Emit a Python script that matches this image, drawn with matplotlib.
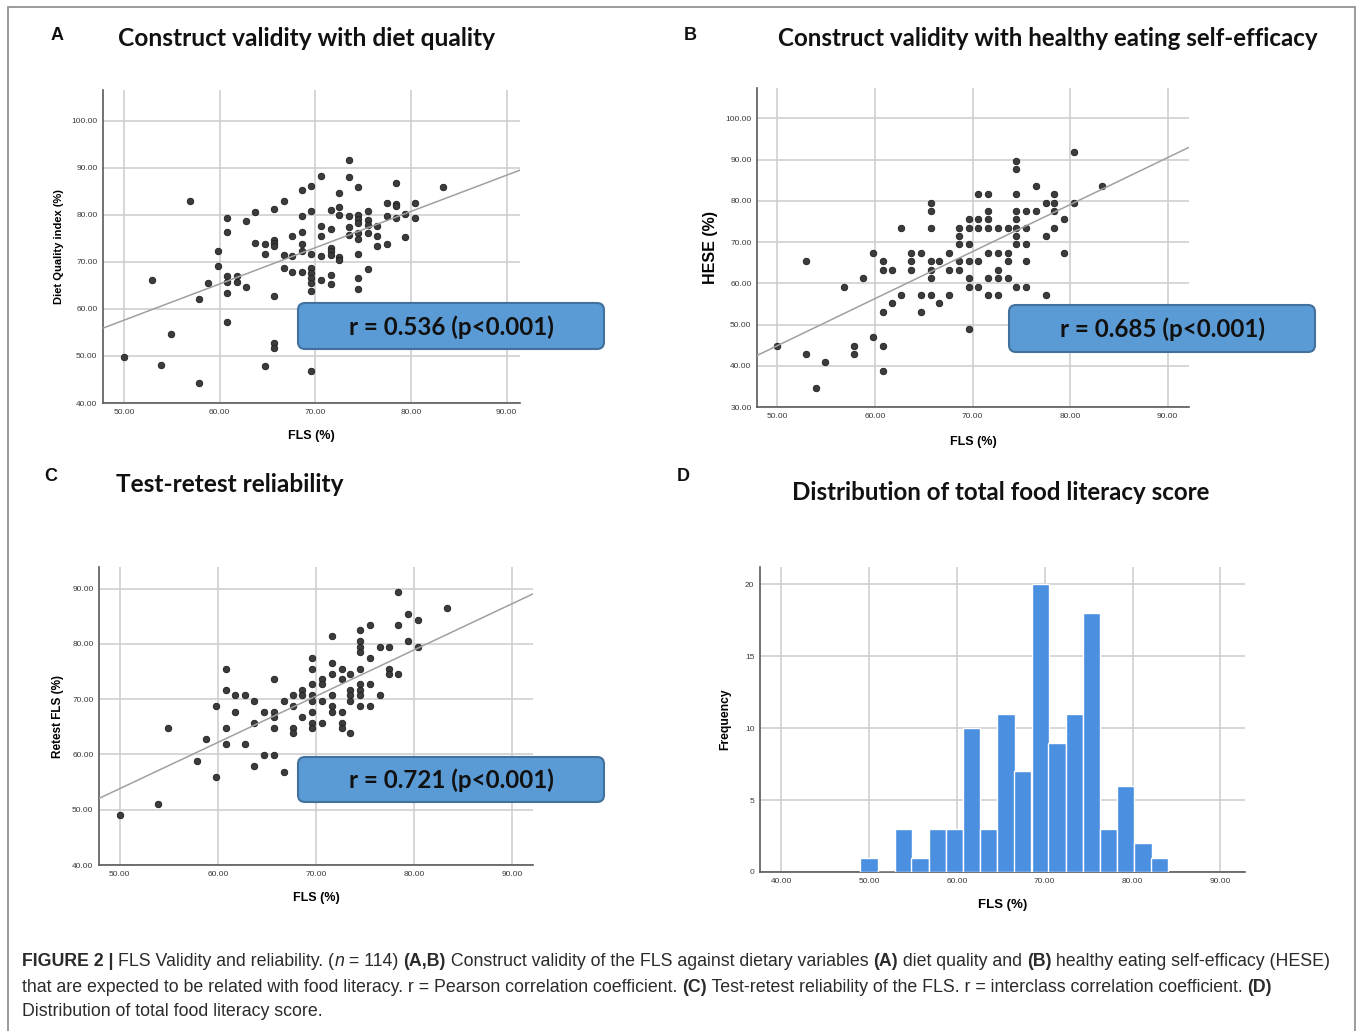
import numpy as np
import matplotlib
matplotlib.use("Agg")
import matplotlib.pyplot as plt
from matplotlib.patches import FancyBboxPatch, Rectangle
from matplotlib.transforms import IdentityTransform

# -----------------------------
# Data
# -----------------------------
# Panel A: FLS vs diet quality index
a_fls = [50.0, 52.9, 53.9, 54.9, 56.9, 57.8, 57.8, 58.8, 59.8, 59.8,
         60.8, 60.8, 60.8, 60.8, 60.8, 60.8, 61.8, 61.8, 62.8, 62.8,
         63.7, 63.7, 64.7, 64.7, 64.7, 65.7, 65.7, 65.7, 65.7, 65.7,
         65.7, 65.7, 66.7, 66.7, 66.7, 67.6, 67.6, 67.6, 68.6, 68.6,
         68.6, 68.6, 68.6, 68.6, 69.6, 69.6, 69.6, 69.6, 69.6, 69.6,
         69.6, 69.6, 69.6, 70.6, 70.6, 70.6, 70.6, 70.6, 71.6, 71.6,
         71.6, 71.6, 71.6, 71.6, 71.6, 72.5, 72.5, 72.5, 72.5, 72.5,
         73.5, 73.5, 73.5, 73.5, 73.5, 74.5, 74.5, 74.5, 74.5, 74.5,
         74.5, 74.5, 74.5, 74.5, 75.5, 75.5, 75.5, 75.5, 75.5, 76.5,
         76.5, 76.5, 77.5, 77.5, 77.5, 78.4, 78.4, 78.4, 78.4, 79.4,
         79.4, 80.4, 80.4, 83.3]
a_dqi = [49.7, 66.2, 48.1, 54.6, 82.9, 62.2, 44.2, 65.5, 72.4, 69.2,
         79.3, 76.4, 67.0, 65.8, 63.4, 57.3, 67.0, 65.8, 78.6, 64.7,
         80.5, 74.0, 73.7, 71.6, 47.8, 81.2, 74.7, 74.0, 73.4, 62.8,
         52.7, 51.6, 82.9, 71.5, 68.6, 75.4, 71.3, 67.8, 85.3, 79.8,
         76.4, 73.7, 72.4, 67.8, 86.0, 80.7, 71.6, 68.6, 67.6, 66.6,
         65.6, 63.9, 46.9, 88.3, 77.6, 75.4, 71.3, 66.1, 80.9, 76.9,
         72.9, 72.2, 71.5, 67.2, 65.3, 84.6, 81.6, 79.9, 71.1, 70.4,
         91.6, 88.0, 79.8, 77.4, 75.7, 85.8, 79.9, 79.1, 78.2, 76.2,
         74.8, 71.6, 66.6, 64.3, 80.7, 78.8, 77.9, 76.2, 68.4, 77.6,
         75.4, 73.4, 82.5, 79.8, 73.8, 86.7, 82.3, 81.9, 79.2, 80.2,
         75.2, 82.5, 79.3, 85.8]
a_line = [57.6, 0.77]   # value at FLS = 50, slope

# Panel B: FLS vs healthy eating self-efficacy
b_fls = [50.0, 52.9, 52.9, 53.9, 54.9, 56.8, 57.8, 57.8, 58.8, 59.8,
         59.8, 60.8, 60.8, 60.8, 60.8, 60.8, 61.7, 61.7, 62.7, 62.7,
         63.7, 63.7, 63.7, 64.7, 64.7, 64.7, 65.7, 65.7, 65.7, 65.7,
         65.7, 65.7, 65.7, 66.6, 66.6, 67.6, 67.6, 67.6, 68.6, 68.6,
         68.6, 68.6, 68.6, 69.6, 69.6, 69.6, 69.6, 69.6, 69.6, 69.6,
         70.6, 70.6, 70.6, 70.6, 70.6, 71.6, 71.6, 71.6, 71.6, 71.6,
         71.6, 71.6, 72.6, 72.6, 72.6, 72.6, 72.6, 73.6, 73.6, 73.6,
         73.6, 74.5, 74.5, 74.5, 74.5, 74.5, 74.5, 74.5, 74.5, 74.5,
         75.5, 75.5, 75.5, 75.5, 75.5, 76.5, 76.5, 77.5, 77.5, 77.5,
         78.4, 78.4, 78.4, 78.4, 79.4, 79.4, 80.4, 80.4, 83.3]
b_hese = [44.9, 65.4, 42.9, 34.7, 40.9, 59.2, 44.9, 42.9, 61.2, 67.4,
          46.9, 65.4, 63.3, 53.1, 44.9, 38.8, 63.3, 55.2, 73.5, 57.2,
          67.4, 65.4, 63.3, 67.4, 57.2, 53.1, 79.6, 77.6, 73.5, 65.4,
          63.3, 61.2, 57.2, 65.4, 55.2, 67.4, 63.3, 57.2, 73.5, 71.5,
          69.5, 65.4, 63.3, 75.6, 73.5, 69.5, 65.4, 61.2, 59.2, 49.0,
          81.6, 75.6, 73.5, 65.4, 59.2, 81.6, 77.6, 75.6, 73.5, 67.4,
          61.2, 57.2, 73.5, 67.4, 63.3, 61.2, 57.2, 73.5, 67.4, 65.4,
          61.2, 89.8, 87.7, 81.6, 77.6, 75.6, 73.5, 71.5, 69.5, 59.2,
          77.6, 73.5, 69.5, 65.4, 59.2, 83.7, 77.6, 79.6, 71.5, 57.2,
          81.6, 79.6, 77.6, 73.5, 75.6, 67.4, 91.8, 79.6, 83.7]
b_line = [44.9, 1.14]

# Panel C: FLS test vs retest
c_fls = [50.0, 53.9, 54.9, 57.9, 58.8, 59.8, 59.8, 60.8, 60.8, 60.8,
         60.8, 61.8, 61.8, 62.8, 62.8, 63.7, 63.7, 63.7, 64.7, 64.7,
         65.7, 65.7, 65.7, 65.7, 65.7, 66.7, 66.7, 67.7, 67.7, 67.7,
         67.7, 68.6, 68.6, 68.6, 69.6, 69.6, 69.6, 69.6, 69.6, 69.6,
         69.6, 69.6, 70.6, 70.6, 70.6, 70.6, 71.6, 71.6, 71.6, 71.6,
         71.6, 71.6, 72.6, 72.6, 72.6, 72.6, 72.6, 73.5, 73.5, 73.5,
         73.5, 73.5, 74.5, 74.5, 74.5, 74.5, 74.5, 74.5, 74.5, 74.5,
         74.5, 75.5, 75.5, 75.5, 75.5, 76.5, 76.5, 77.4, 77.4, 77.4,
         78.4, 78.4, 78.4, 79.4, 79.4, 80.4, 80.4, 83.3]
c_retest = [49.0, 51.0, 64.8, 58.9, 62.8, 68.7, 55.9, 75.5, 71.6, 64.8,
            61.8, 70.7, 67.7, 70.7, 61.8, 69.7, 65.7, 57.9, 67.7, 59.9,
            73.6, 67.7, 66.7, 64.8, 59.9, 69.7, 56.9, 70.7, 68.7, 64.8,
            63.8, 71.6, 70.7, 66.7, 77.5, 75.5, 72.7, 70.7, 69.7, 67.7,
            65.7, 64.8, 73.6, 72.7, 69.7, 65.7, 81.4, 76.6, 74.6, 70.7,
            68.7, 67.7, 75.5, 73.6, 67.7, 65.7, 64.8, 74.6, 71.6, 70.7,
            69.7, 63.8, 82.5, 80.5, 79.5, 78.6, 75.5, 72.7, 71.6, 70.7,
            68.7, 83.4, 77.5, 72.7, 68.7, 79.5, 70.7, 79.5, 75.5, 74.6,
            89.3, 83.4, 74.6, 85.4, 80.5, 84.4, 79.5, 86.4]
c_line = [53.8, 0.837]

# Panel D: histogram of total FLS
d_bins = [50.0, 51.9, 53.9, 55.8, 57.8, 59.7, 61.7, 63.6, 65.6, 67.5,
          69.5, 71.4, 73.4, 75.3, 77.3, 79.2, 81.2, 83.1]
d_counts = [1, 0, 3, 1, 3, 3, 10, 3, 11, 7, 20, 9, 11, 18, 3, 6, 2, 1]

W, H = 1360, 1031
fig = plt.figure(figsize=(W / 100, H / 100), dpi=100)
fig.patch.set_facecolor("white")
renderer = fig.canvas.get_renderer()


def fr(x, y):
    return x / W, 1 - y / H


def fit_width(t, width):
    bb = t.get_window_extent(renderer)
    t.set_fontsize(t.get_fontsize() * width / bb.width)


def spss_axes(rect, xlim, ylim, xticks, yticks, yfmt="{:.2f}"):
    l, r, top, bot = rect
    ax = fig.add_axes([l / W, 1 - bot / H, (r - l) / W, (bot - top) / H])
    ax.set_xlim(*xlim)
    ax.set_ylim(*ylim)
    ax.set_xticks(xticks)
    ax.set_xticklabels([f"{v:.2f}" for v in xticks])
    ax.set_yticks(yticks)
    ax.set_yticklabels([yfmt.format(v) for v in yticks])
    ax.grid(True, color="#cfcfcf", lw=1.2)
    ax.set_axisbelow(True)
    for s in ["top", "right"]:
        ax.spines[s].set_visible(False)
    for s in ["left", "bottom"]:
        ax.spines[s].set_color("#5a5a5a")
        ax.spines[s].set_linewidth(1.2)
    ax.tick_params(length=0, labelsize=6, labelcolor="#3a3a3a", pad=4)
    for lab in ax.get_xticklabels() + ax.get_yticklabels():
        lab.set_family("Liberation Sans")
    return ax


def scatter_panel(ax, xs, ys, line):
    ax.scatter(xs, ys, s=22, c="#3c3c3c", edgecolors="#1e1e1e",
               linewidths=0.6, zorder=3)
    ax.axline((50, line[0]), slope=line[1], color="#a0a0a0", lw=1.1, zorder=4)


def r_box(x0, y0, x1, y1, label):
    box = FancyBboxPatch((x0, H - y1), x1 - x0, y1 - y0,
                         boxstyle="round,pad=0,rounding_size=7",
                         facecolor="#5b9bd5", edgecolor="#41719c", lw=1.5,
                         transform=IdentityTransform(), zorder=10)
    fig.add_artist(box)
    t = fig.text(*fr((x0 + x1) / 2, (y0 + y1) / 2 + 1), label, ha="center",
                 va="center", family="Lato", weight="bold", fontsize=18,
                 color="#111111", zorder=11)
    fit_width(t, 205)


def title(x0, x1, y, label):
    t = fig.text(*fr(x0, y), label, ha="left", va="center", family="Lato",
                 weight="bold", fontsize=18, color="#111111")
    fit_width(t, x1 - x0)


def letter(x, y, s):
    fig.text(*fr(x, y), s, ha="center", va="center", family="Liberation Sans",
             weight="bold", fontsize=13, color="#111111")


# -----------------------------
# Panel A
# -----------------------------
axA = spss_axes((103, 520, 90, 403), (47.8, 91.4), (40, 106.5),
                [50, 60, 70, 80, 90], [40, 50, 60, 70, 80, 90, 100])
scatter_panel(axA, a_fls, a_dqi, a_line)
axA.set_xlabel("FLS (%)", family="Liberation Sans", weight="bold",
               fontsize=9, labelpad=10.5)
axA.set_ylabel("Diet Quality index (%)", family="Liberation Sans",
               weight="bold", fontsize=8, labelpad=5.5)

# -----------------------------
# Panel B
# -----------------------------
axB = spss_axes((757, 1189, 88, 407), (47.9, 92.2), (30, 107.4),
                [50, 60, 70, 80, 90], [30, 40, 50, 60, 70, 80, 90, 100])
scatter_panel(axB, b_fls, b_hese, b_line)
axB.set_xlabel("FLS (%)", family="Liberation Sans", weight="bold",
               fontsize=9, labelpad=11.5)
axB.set_ylabel("HESE (%)", family="Liberation Sans", weight="bold",
               fontsize=11.5, labelpad=5)

# -----------------------------
# Panel C
# -----------------------------
axC = spss_axes((99, 533, 567, 865), (47.9, 92.1), (40, 93.9),
                [50, 60, 70, 80, 90], [40, 50, 60, 70, 80, 90])
scatter_panel(axC, c_fls, c_retest, c_line)
axC.set_xlabel("FLS (%)", family="Liberation Sans", weight="bold",
               fontsize=9, labelpad=10.5)
axC.set_ylabel("Retest FLS (%)", family="Liberation Sans", weight="bold",
               fontsize=8.5, labelpad=6)

# -----------------------------
# Panel D
# -----------------------------
axD = spss_axes((760, 1245, 567, 872), (37.6, 92.8), (0, 21.2),
                [40, 50, 60, 70, 80, 90], [0, 5, 10, 15, 20], yfmt="{:.0f}")
axD.bar(d_bins, d_counts, width=1.96, color="#4a8fe0", edgecolor="white",
        lw=1.0, zorder=3)
axD.set_xlabel("FLS (%)", family="Liberation Sans", weight="bold",
               fontsize=9.5, labelpad=10.5)
axD.set_ylabel("Frequency", family="Liberation Sans", weight="bold",
               fontsize=8.7, labelpad=10)

# titles, letters, r boxes
letter(57, 36, "A")
letter(690, 36, "B")
letter(51, 476, "C")
letter(683, 476, "D")
title(118, 496, 38, "Construct validity with diet quality")
title(778, 1321, 38, "Construct validity with healthy eating self-efficacy")
title(116, 343, 485, "Test-retest reliability")
title(792, 1213, 493, "Distribution of total food literacy score")

r_box(298, 303, 604, 349, "r = 0.536 (p<0.001)")
r_box(1009, 305, 1315, 352, "r = 0.685 (p<0.001)")
r_box(298, 757, 604, 802, "r = 0.721 (p<0.001)")

# outer frame
fig.add_artist(Rectangle((8, -10), 1347, H - 7 + 10, fill=False,
                         edgecolor="#8a8a8a", lw=1.2,
                         transform=IdentityTransform()))

# -----------------------------
# Caption with mixed weights
# -----------------------------
R, B, I = ("normal", "normal"), ("bold", "normal"), ("normal", "italic")
cap_lines = [
    [("FIGURE 2 | ", B), ("FLS Validity and reliability. (", R), ("n", I),
     (" = 114) ", R), ("(A,B)", B),
     (" Construct validity of the FLS against dietary variables ", R),
     ("(A)", B), (" diet quality and ", R), ("(B)", B),
     (" healthy eating self-efficacy (HESE)", R)],
    [("that are expected to be related with food literacy. r = Pearson "
      "correlation coefficient. ", R), ("(C)", B),
     (" Test-retest reliability of the FLS. r = interclass correlation "
      "coefficient. ", R), ("(D)", B)],
    [("Distribution of total food literacy score.", R)],
]


def seg_width(text, style, size):
    kw = dict(family="Liberation Sans", weight=style[0], style=style[1],
              fontsize=size)
    t1 = fig.text(0, 0, "|" + text + "|", **kw)
    t2 = fig.text(0, 0, "||", **kw)
    w = t1.get_window_extent(renderer).width - t2.get_window_extent(renderer).width
    t1.remove()
    t2.remove()
    return w


base = 12
total = sum(seg_width(s, st, base) for s, st in cap_lines[0])
cap_size = base * 1318 / total

for line, y in zip(cap_lines, [962, 987, 1012]):
    x = 22
    for text, st in line:
        fig.text(*fr(x, y), text, ha="left", va="center",
                 family="Liberation Sans", weight=st[0], style=st[1],
                 fontsize=cap_size, color="#2b2b2b")
        x += seg_width(text, st, cap_size)

fig.savefig("out.png", dpi=100)
